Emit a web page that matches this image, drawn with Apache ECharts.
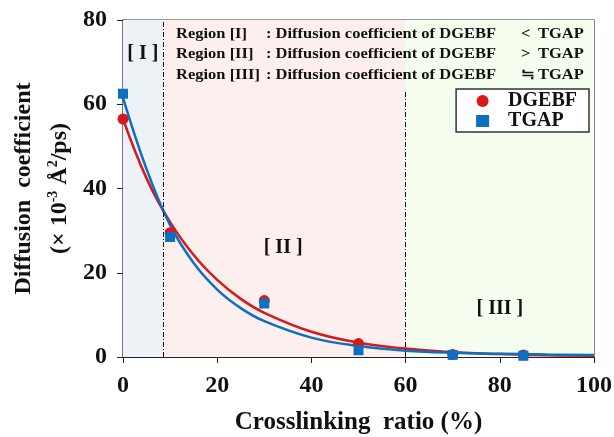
<!DOCTYPE html>
<html>
<head>
<meta charset="utf-8">
<script src="https://cdn.jsdelivr.net/npm/echarts@6/dist/echarts.min.js"></script>
<style>
  html, body { margin: 0; padding: 0; background: #fff; }
  #main { width: 614px; height: 437px; }
</style>
</head>
<body>
<div id="main"></div>
<script>
// measured points (x = crosslinking ratio %, y = diffusion coefficient)
var dgebfPts = [[0, 56.5], [10, 29.5], [30, 13.4], [50, 3.2], [70, 0.6], [85, 0.5]];
var tgapPts = [[0, 62.5], [10, 28.5], [30, 12.7], [50, 1.6], [70, 0.5], [85, 0.3]];

// fitted curves
var fitX = [0, 5, 10, 15, 20, 25, 30, 40, 50, 60, 70, 80, 90, 100];
var dgebfFit = [56.5, 42.4, 32.0, 24.2, 18.3, 13.8, 10.5, 6.0, 3.4, 2.0, 1.1, 0.7, 0.4, 0.3];
var tgapFit = [61.5, 44.6, 31.3, 22.3, 16.0, 11.6, 8.5, 4.6, 2.6, 1.5, 1.0, 0.8, 0.6, 0.5];

// region limits and labels
var regionEdges = [0, 8.5, 60, 100];
var regionColors = ['#EDF2F7', '#FEEFEF', '#F5FDEE'];
var regionTags = [[4.2, 72, '[ I ]'], [34, 26, '[ II ]'], [80, 11.5, '[ III ]']];
var regionNotes = [
    ['Region [I]', ': Diffusion coefficient of DGEBF', '<', 'TGAP'],
    ['Region [II]', ': Diffusion coefficient of DGEBF', '>', 'TGAP'],
    ['Region [III]', ': Diffusion coefficient of DGEBF', '\u2252', 'TGAP']
];

var xTicks = [0, 20, 40, 60, 80, 100];
var yTicks = [0, 20, 40, 60, 80];

var serif = 'Liberation Serif';

function pairs(xs, ys) {
    return xs.map(function (x, i) { return [x, ys[i]]; });
}

var chart = echarts.init(document.getElementById('main'));

var areas = [];
for (var i = 0; i < 3; i++) {
    areas.push([
        {xAxis: regionEdges[i], itemStyle: {color: regionColors[i]}},
        {xAxis: regionEdges[i + 1]}
    ]);
}

// the note lines are drawn a bit wide in the original
var notes = [];
regionNotes.forEach(function (row, k) {
    var y = 34 + k * 20.5;
    var xs = [176, 266, 521, 538];
    row.forEach(function (t, j) {
        notes.push({
            type: 'text', x: xs[j], y: y, z: 50, scaleX: 1.1,
            style: {text: t, font: 'bold 15px ' + serif, fill: '#111', verticalAlign: 'middle'}
        });
    });
});

var option = {
    backgroundColor: '#fff',
    animation: false,
    grid: {
        left: 123, right: 20, top: 20, bottom: 80,
        outerBoundsMode: 'none', containLabel: false,
        show: true, borderColor: '#333', borderWidth: 1.2,
        backgroundColor: 'transparent'
    },
    legend: {
        orient: 'vertical',
        right: 25, top: 89,
        backgroundColor: '#fff',
        borderColor: '#333', borderWidth: 1.5, borderRadius: 0,
        padding: [2, 12, 1, 20],
        itemGap: 0, itemWidth: 13, itemHeight: 12,
        textStyle: {fontFamily: serif, fontWeight: 'bold', fontSize: 20, lineHeight: 18, color: '#111', padding: [0, 0, 0, 14]},
        data: [{name: 'DGEBF', icon: 'circle'}, {name: 'TGAP', icon: 'rect'}]
    },
    xAxis: {
        type: 'value', min: 0, max: 100, interval: 20,
        name: 'Crosslinking  ratio (%)', nameLocation: 'middle', nameGap: 53,
        nameTextStyle: {fontFamily: serif, fontWeight: 'bold', fontSize: 25, color: '#111'},
        axisLine: {lineStyle: {color: '#222', width: 1.2}},
        axisTick: {inside: false, length: 6, lineStyle: {color: '#222'}},
        axisLabel: {margin: 17, fontFamily: serif, fontWeight: 'bold', fontSize: 24, color: '#111',
            customValues: xTicks},
        splitLine: {show: false}
    },
    yAxis: {
        type: 'value', min: 0, max: 80, interval: 20,
        name: '{h|Diffusion  coefficient}\n{t|(\u00d7 10}{s|-3}{t| \u00c5}{s|2}{t|/ps)}',
        nameLocation: 'middle', nameGap: 36, nameRotate: 90,
        nameTextStyle: {
            fontFamily: serif, fontWeight: 'bold', fontSize: 24, color: '#111',
            rich: {
                h: {fontFamily: serif, fontWeight: 'bold', fontSize: 24, color: '#111', lineHeight: 44},
                t: {fontFamily: serif, fontWeight: 'bold', fontSize: 24, color: '#111', lineHeight: 28},
                s: {fontFamily: serif, fontWeight: 'bold', fontSize: 14, color: '#111', verticalAlign: 'top', lineHeight: 16}
            }
        },
        axisLine: {show: true, lineStyle: {color: '#222', width: 1.2}},
        axisTick: {show: true, inside: false, length: 6, lineStyle: {color: '#222'}},
        axisLabel: {margin: 16, fontFamily: serif, fontWeight: 'bold', fontSize: 24, color: '#111',
            customValues: yTicks},
        splitLine: {show: false}
    },
    graphic: notes,
    series: [
        {
            name: 'DGEBF fit', type: 'line', smooth: 0.4, showSymbol: false,
            data: pairs(fitX, dgebfFit),
            lineStyle: {color: '#D7191C', width: 2.5},
            itemStyle: {color: '#D7191C'},
            z: 3,
            markArea: {silent: true, data: areas},
            markLine: {
                silent: true, symbol: 'none',
                lineStyle: {color: '#111', width: 1, type: [5, 2, 1, 2]},
                label: {show: false},
                data: [
                    [{coord: [regionEdges[1], 0]}, {coord: [regionEdges[1], 80]}],
                    [{coord: [regionEdges[2], 0]}, {coord: [regionEdges[2], 63]}]
                ]
            }
        },
        {
            name: 'TGAP fit', type: 'line', smooth: 0.4, showSymbol: false,
            data: pairs(fitX, tgapFit),
            lineStyle: {color: '#0B70C0', width: 2.5},
            itemStyle: {color: '#0B70C0'},
            z: 4
        },
        {
            name: 'DGEBF', type: 'scatter', symbol: 'circle', symbolSize: 11,
            data: dgebfPts, itemStyle: {color: '#D7191C', opacity: 1}, z: 5
        },
        {
            name: 'TGAP', type: 'scatter', symbol: 'rect', symbolSize: 10,
            data: tgapPts, itemStyle: {color: '#0B70C0', opacity: 1}, z: 6
        },
        {
            name: 'tags', type: 'scatter', symbolSize: 0, silent: true,
            data: regionTags,
            itemStyle: {opacity: 1},
            label: {
                show: true, position: 'inside',
                formatter: function (p) { return p.data[2]; },
                fontFamily: serif, fontWeight: 'bold', fontSize: 20, color: '#111'
            },
            z: 7
        }
    ]
};

chart.setOption(option);
</script>
</body>
</html>
